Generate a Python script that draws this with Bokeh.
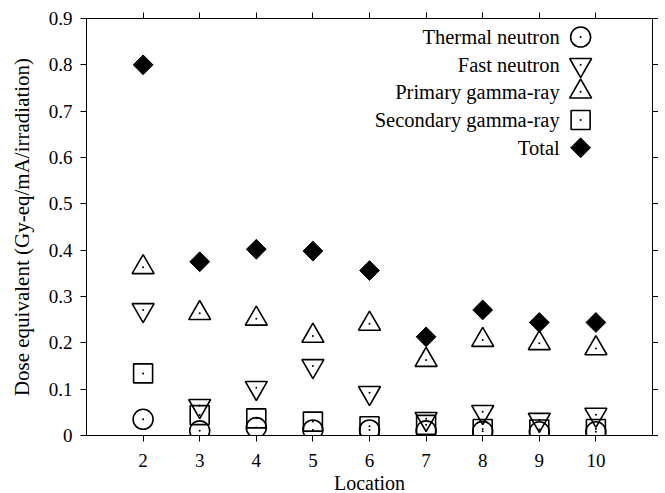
import math
from bokeh.plotting import figure
from bokeh.models import (LinearAxis, FixedTicker, ColumnDataSource, Range1d,
                          CustomJSTickFormatter)
from bokeh.core.properties import value
from bokeh.embed import file_html
from bokeh.resources import INLINE

locations = [2, 3, 4, 5, 6, 7, 8, 9, 10]
thermal_neutron = [0.035, 0.010, 0.017, 0.012, 0.012, 0.010, 0.009, 0.008, 0.008]
fast_neutron = [0.271, 0.064, 0.103, 0.150, 0.092, 0.036, 0.051, 0.034, 0.045]
primary_gamma = [0.363, 0.264, 0.252, 0.215, 0.241, 0.163, 0.206, 0.199, 0.188]
secondary_gamma = [0.134, 0.044, 0.037, 0.030, 0.020, 0.023, 0.014, 0.013, 0.014]
total = [0.800, 0.375, 0.402, 0.398, 0.356, 0.213, 0.271, 0.244, 0.244]

x_ticks = [2, 3, 4, 5, 6, 7, 8, 9, 10]
y_ticks = [0, 0.1, 0.2, 0.3, 0.4, 0.5, 0.6, 0.7, 0.8, 0.9]
y_tick_labels = ["0", "0.1", "0.2", "0.3", "0.4", "0.5", "0.6", "0.7", "0.8", "0.9"]

legend_labels = ["Thermal neutron", "Fast neutron", "Primary gamma-ray",
                 "Secondary gamma-ray", "Total"]
x_title = "Location"
y_title = "Dose equivalent (Gy-eq/mA/irradiation)"

FONT = "Liberation Serif"

p = figure(frame_width=566, frame_height=417,
           x_range=Range1d(1, 11), y_range=Range1d(0, 0.9),
           output_backend="svg", toolbar_location=None,
           min_border_left=86, min_border_top=18, min_border_right=4,
           min_border_bottom=0)
p.grid.visible = False
p.outline_line_color = "black"
p.outline_line_width = 1
p.background_fill_color = "white"
p.border_fill_color = "white"

def style_axis(ax):
    ax.axis_line_color = "black"
    ax.major_tick_line_color = "black"
    ax.minor_tick_line_color = None
    ax.major_tick_in = 0
    ax.major_tick_out = 6
    ax.major_label_text_font = FONT
    ax.major_label_text_font_size = "19px"
    ax.major_label_text_color = "black"
    ax.major_label_text_line_height = 1.0
    ax.axis_label_text_font = FONT
    ax.axis_label_text_font_size = "20px"
    ax.axis_label_text_font_style = "normal"
    ax.axis_label_text_color = "black"
    ax.axis_label_text_line_height = 1.0

xa = p.xaxis[0]
xa.ticker = FixedTicker(ticks=x_ticks)
xa.axis_label = x_title
style_axis(xa)
xa.major_label_standoff = 12
xa.axis_label_standoff = 2

ya = p.yaxis[0]
ya.ticker = FixedTicker(ticks=y_ticks)
ya.major_label_overrides = {t: l for t, l in zip(y_ticks, y_tick_labels)}
ya.axis_label = y_title
style_axis(ya)
ya.axis_label_text_font_size = "21px"
ya.major_label_standoff = 8
ya.axis_label_standoff = 12

blank = CustomJSTickFormatter(code="return ''")
top = LinearAxis(ticker=FixedTicker(ticks=x_ticks), formatter=blank)
style_axis(top)
top.major_label_standoff = 0
p.add_layout(top, "above")

right = LinearAxis(ticker=FixedTicker(ticks=y_ticks), formatter=blank)
style_axis(right)
right.major_label_standoff = 0
p.add_layout(right, "right")

src = ColumnDataSource(dict(x=locations, thermal=thermal_neutron, fast=fast_neutron,
                            primary=primary_gamma, secondary=secondary_gamma, total=total))

LW = 1.6
p.scatter("x", "thermal", source=src, marker="circle", size=20,
          fill_color=None, line_color="black", line_width=LW)
p.scatter("x", "fast", source=src, marker="inverted_triangle", size=22,
          fill_color=None, line_color="black", line_width=LW)
p.scatter("x", "primary", source=src, marker="triangle", size=22,
          fill_color=None, line_color="black", line_width=LW)
p.scatter("x", "secondary", source=src, marker="square", size=19,
          fill_color=None, line_color="black", line_width=LW)
for col in ["thermal", "fast", "primary", "secondary"]:
    p.scatter("x", col, source=src, marker="circle", size=2,
              fill_color="black", line_color=None)
p.scatter("x", "total", source=src, marker="square", size=14, angle=math.pi / 4,
          fill_color="black", line_color="black")

# custom legend (text right-aligned, symbol on the right)
leg_x_text = 9.36
leg_x_mark = 9.73
leg_y = [0.86, 0.80, 0.742, 0.681, 0.621]
leg_src = ColumnDataSource(dict(x=[leg_x_text] * 5, y=leg_y, t=legend_labels))
p.text("x", "y", text="t", source=leg_src, text_align="right", text_baseline="middle",
       text_font=value(FONT), text_font_size="20.5px", text_color="black")
mk = [("circle", 20), ("inverted_triangle", 22), ("triangle", 22), ("square", 19)]
for (m, s), yy in zip(mk, leg_y[:4]):
    p.scatter([leg_x_mark], [yy], marker=m, size=s, fill_color=None,
              line_color="black", line_width=LW)
    p.scatter([leg_x_mark], [yy], marker="circle", size=2, fill_color="black", line_color=None)
p.scatter([leg_x_mark], [leg_y[4]], marker="square", size=14, angle=math.pi / 4,
          fill_color="black", line_color="black")

open("out.html", "w").write(file_html(p, INLINE))
